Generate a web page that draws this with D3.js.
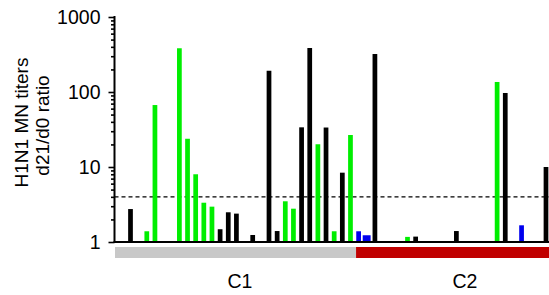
<!DOCTYPE html>
<html><head><meta charset="utf-8">
<script src="https://cdn.jsdelivr.net/npm/d3@7"></script>
<style>
html,body{margin:0;padding:0;background:#fff;}
svg{display:block;font-family:"Liberation Sans",Arial,Helvetica,sans-serif;}
</style></head>
<body>
<script>
// Subjects in plotting order (value 1 = no rise, no visible bar)
const values = [2.75,1,1.39,67,1,1,383,23.8,8.0,3.34,2.96,1.48,2.49,2.39,1,1.24,1,192,1.40,3.49,2.78,33.8,386,20.1,33.6,1.39,8.4,26.7,
                1.39,1.23,321,1,1,1,1.17,1.18,1,1,1,1,1.40,1,1,1,1,136,97,1,1.67,1,1,10];
const colors = ["k","k","g","g","k","k","g","g","g","g","g","k","k","k","k","k","k","k","k","g","g","k","k","g","k","g","k","g",
                "b","b","k","k","k","k","g","k","k","k","k","k","k","k","k","k","k","g","k","k","b","k","k","k"];
const groups = ["C1","C2"];
const groupStart = [0,28]; // first subject index of each group
const threshold = 4;
const yTicks = [1,10,100,1000];
const yMinor = [2,3,4,5,6,7,8,9,20,30,40,50,60,70,80,90,200,300,400,500,600,700,800,900];
const yTitle = ["H1N1 MN titers","d21/d0 ratio"];

const W=549,H=295;
const svg=d3.select("body").append("svg").attr("width",W).attr("height",H);
const axisX=114.5, plotRight=549, y0=242, y1=17;
const step=8.147, first=130.5;
const n=values.length;
const x=d3.scaleBand().domain(d3.range(n))
  .range([first-step/2, first-step/2+step*n]).paddingInner(0.42).paddingOuter(0.21);
const y=d3.scaleLog().domain([1,1000]).range([y0,y1]);
const col={k:"#000000",g:"#00ee00",b:"#0000ee"};

// threshold dashed line
svg.append("line").attr("x1",axisX).attr("x2",plotRight).attr("y1",y(threshold)).attr("y2",y(threshold))
  .attr("stroke","#000").attr("stroke-width",1.2).attr("stroke-dasharray","4,3");

// bars
const wideIdx=29;
svg.append("g").selectAll("rect").data(values.map((v,i)=>({v,i,c:colors[i]})).filter(d=>d.v>1)).join("rect")
  .attr("x",d=>d.i===wideIdx? x(d.i)-1.7 : x(d.i))
  .attr("width",d=>d.i===wideIdx? x.bandwidth()+3.2 : x.bandwidth())
  .attr("y",d=>y(d.v)).attr("height",d=>y0-y(d.v))
  .attr("fill",d=>col[d.c]);

// y axis major
const gA=svg.append("g").attr("transform",`translate(${axisX},0)`)
  .call(d3.axisLeft(y).tickValues(yTicks).tickFormat(d3.format("d")).tickSize(6).tickPadding(8));
gA.select(".domain").remove();
gA.selectAll("line").attr("stroke","#000").attr("stroke-width",1.6);
gA.selectAll("text").attr("font-size",19.5).attr("fill","#000").attr("font-family","Liberation Sans, Arial, sans-serif");
const gM=svg.append("g").attr("transform",`translate(${axisX},0)`)
  .call(d3.axisLeft(y).tickValues(yMinor).tickFormat("").tickSize(3.5));
gM.select(".domain").remove();
gM.selectAll("line").attr("stroke","#000").attr("stroke-width",1.6);
svg.append("line").attr("x1",axisX).attr("x2",axisX).attr("y1",y1-1).attr("y2",y0+1).attr("stroke","#000").attr("stroke-width",2);
svg.append("line").attr("x1",axisX-1).attr("x2",plotRight).attr("y1",y0).attr("y2",y0).attr("stroke","#000").attr("stroke-width",2);

// group bars
const gx0=115, gxSplit=x(groupStart[1])-0.2;
svg.append("rect").attr("x",gx0).attr("y",247).attr("width",gxSplit-gx0).attr("height",11).attr("fill","#c8c8c8");
svg.append("rect").attr("x",gxSplit).attr("y",247).attr("width",plotRight-gxSplit).attr("height",11).attr("fill","#c00000");
svg.append("text").attr("x",240).attr("y",288).attr("text-anchor","middle").attr("font-size",19.5).text(groups[0]);
svg.append("text").attr("x",465).attr("y",288).attr("text-anchor","middle").attr("font-size",19.5).text(groups[1]);

// y title
const t=svg.append("text").attr("transform","translate(0,124) rotate(-90)").attr("text-anchor","middle").attr("font-size",19);
t.append("tspan").attr("x",1.5).attr("y",28).text(yTitle[0]);
t.append("tspan").attr("x",-1.5).attr("y",49).text(yTitle[1]);
</script>
</body></html>
